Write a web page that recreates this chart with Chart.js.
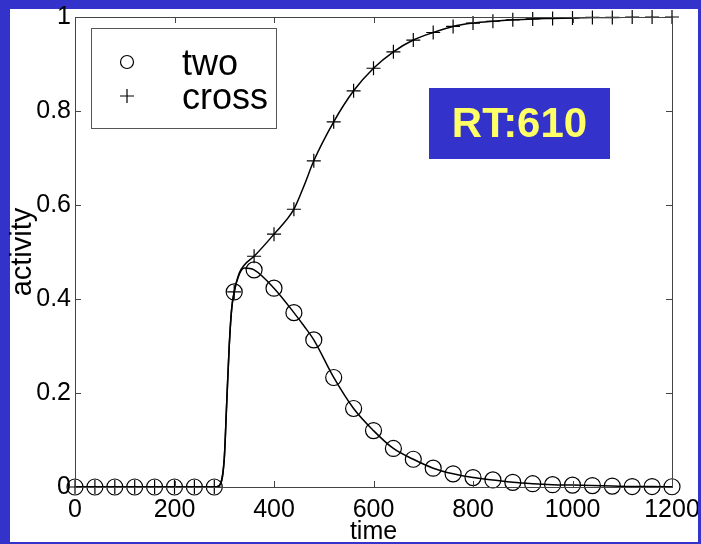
<!DOCTYPE html>
<html>
<head>
<meta charset="utf-8">
<script src="https://cdn.jsdelivr.net/npm/chart.js@4/dist/chart.umd.min.js"></script>
<style>
  html, body { margin: 0; padding: 0; background: #3333cc; }
  canvas { display: block; }
</style>
</head>
<body>
<canvas id="myChart" width="701" height="544"></canvas>
<script>
// sample times of the markers
const markerTimes = [0, 40, 80, 120, 160, 200, 240, 280, 320, 360, 400, 440, 480, 520, 560, 600,
    640, 680, 720, 760, 800, 840, 880, 920, 960, 1000, 1040, 1080, 1120, 1160, 1200];
const twoMarks = [0, 0, 0, 0, 0, 0, 0, 0, 0.415, 0.462, 0.423, 0.371, 0.313, 0.233, 0.167, 0.120,
    0.082, 0.059, 0.040, 0.028, 0.020, 0.015, 0.010, 0.007, 0.005, 0.004, 0.003, 0.002, 0.001, 0.001, 0.0005];
const crossMarks = [0, 0, 0, 0, 0, 0, 0, 0, 0.415, 0.491, 0.538, 0.591, 0.694, 0.777, 0.843, 0.891,
    0.926, 0.951, 0.967, 0.980, 0.987, 0.991, 0.994, 0.996, 0.997, 0.998, 0.999, 0.999, 1, 1, 1];

// the solid curves, read more densely around the onset
const curveTimes = [0, 280, 290, 300, 305, 310, 315, 320, 330, 340, 360, 400, 440, 460, 480, 520, 560, 600,
    640, 680, 720, 760, 800, 840, 880, 920, 960, 1000, 1040, 1080, 1120, 1160, 1200];
const twoCurve = [0, 0, 0.003, 0.06, 0.18, 0.30, 0.38, 0.415, 0.452, 0.466, 0.462, 0.423, 0.371, 0.343, 0.313, 0.233, 0.167, 0.120,
    0.082, 0.059, 0.040, 0.028, 0.020, 0.015, 0.010, 0.007, 0.005, 0.004, 0.003, 0.002, 0.001, 0.001, 0.0005];
const crossCurve = [0, 0, 0.003, 0.06, 0.18, 0.30, 0.38, 0.415, 0.455, 0.472, 0.491, 0.538, 0.591, 0.640, 0.694, 0.777, 0.843, 0.891,
    0.926, 0.951, 0.967, 0.980, 0.987, 0.991, 0.994, 0.996, 0.997, 0.998, 0.999, 0.999, 1, 1, 1];

const yTicks = [0, 0.2, 0.4, 0.6, 0.8, 1];
const xTicks = [0, 200, 400, 600, 800, 1000, 1200];
const rtLabel = "RT:610";

const pts = (xs, ys) => xs.map((x, i) => ({x: x, y: ys[i]}));
const FONT = "'Liberation Sans', Arial, Helvetica, sans-serif";

const framePlugin = {
    id: "frame",
    beforeDraw(chart) {
        const ctx = chart.ctx;
        ctx.save();
        ctx.fillStyle = "#3333cc";
        ctx.fillRect(0, 0, chart.width, chart.height);
        ctx.fillStyle = "#ffffff";
        ctx.fillRect(10, 9, 688, 533);
        ctx.restore();
    },
    afterDatasetsDraw(chart) {
        const ctx = chart.ctx;
        const a = chart.chartArea;
        const xs = chart.scales.x, ys = chart.scales.y;
        ctx.save();
        ctx.strokeStyle = "#444";
        ctx.lineWidth = 1;
        ctx.strokeRect(Math.round(a.left) + 0.5, Math.round(a.top) + 0.5,
            Math.round(a.right - a.left), Math.round(a.bottom - a.top));
        ctx.beginPath();
        xTicks.forEach(v => {
            const px = Math.round(xs.getPixelForValue(v)) + 0.5;
            ctx.moveTo(px, a.bottom); ctx.lineTo(px, a.bottom - 6);
            ctx.moveTo(px, a.top); ctx.lineTo(px, a.top + 6);
        });
        yTicks.forEach(v => {
            const py = Math.round(ys.getPixelForValue(v)) + 0.5;
            ctx.moveTo(a.left, py); ctx.lineTo(a.left + 6, py);
            ctx.moveTo(a.right, py); ctx.lineTo(a.right - 6, py);
        });
        ctx.stroke();

        // legend box
        ctx.fillStyle = "#fff";
        ctx.fillRect(91, 28, 185, 100);
        ctx.strokeStyle = "#555";
        ctx.strokeRect(91.5, 28.5, 185, 100);
        const marks = chart.data.datasets.filter(d => d.showLine === false);
        ctx.font = "36px " + FONT;
        ctx.textBaseline = "alphabetic";
        ctx.textAlign = "left";
        marks.forEach((d, i) => {
            const cy = 62 + i * 34;
            ctx.strokeStyle = "#000";
            ctx.lineWidth = 1.2;
            ctx.beginPath();
            if (d.pointStyle === "circle") {
                ctx.arc(127, cy, 6.5, 0, Math.PI * 2);
            } else {
                ctx.moveTo(120, cy); ctx.lineTo(134, cy);
                ctx.moveTo(127, cy - 7); ctx.lineTo(127, cy + 7);
            }
            ctx.stroke();
            ctx.fillStyle = "#000";
            ctx.fillText(d.label, 182, 75 + i * 34);
        });

        // RT box
        ctx.fillStyle = "#3333cc";
        ctx.fillRect(429, 88, 181, 71);
        ctx.fillStyle = "#ffff66";
        ctx.font = "bold 42px " + FONT;
        ctx.textAlign = "center";
        ctx.textBaseline = "middle";
        ctx.fillText(rtLabel, 519.5, 125);
        ctx.restore();
    },
    afterDraw(chart) {
        // blue frame edge clips whatever pokes out of the white page
        const ctx = chart.ctx;
        ctx.save();
        ctx.fillStyle = "#3333cc";
        ctx.fillRect(698, 0, 3, chart.height);
        ctx.fillRect(0, 542, chart.width, 2);
        ctx.restore();
    }
};

const data = {
    datasets: [
        {
            label: "two curve",
            data: pts(curveTimes, twoCurve),
            borderColor: "#000",
            borderWidth: 1.5,
            pointRadius: 0,
            cubicInterpolationMode: "monotone",
            fill: false
        },
        {
            label: "cross curve",
            data: pts(curveTimes, crossCurve),
            borderColor: "#000",
            borderWidth: 1.5,
            pointRadius: 0,
            cubicInterpolationMode: "monotone",
            fill: false
        },
        {
            label: "two",
            data: pts(markerTimes, twoMarks),
            showLine: false,
            pointStyle: "circle",
            pointRadius: 8,
            pointBorderWidth: 1.2,
            borderColor: "#000",
            backgroundColor: "rgba(0,0,0,0)",
            clip: false
        },
        {
            label: "cross",
            data: pts(markerTimes, crossMarks),
            showLine: false,
            pointStyle: "cross",
            pointRadius: 7,
            pointBorderWidth: 1.2,
            borderColor: "#000",
            backgroundColor: "rgba(0,0,0,0)",
            clip: false
        }
    ]
};

const config = {
    type: "line",
    data: data,
    options: {
        responsive: false,
        animation: false,
        devicePixelRatio: 1,
        layout: { padding: { left: 6, top: 17, right: 29, bottom: 0 } },
        plugins: {
            legend: { display: false },
            tooltip: { enabled: false }
        },
        scales: {
            x: {
                type: "linear",
                min: 0,
                max: 1200,
                afterBuildTicks: s => { s.ticks = xTicks.map(v => ({value: v})); },
                afterFit: s => { s.height = 57; s.paddingLeft = 0; s.paddingRight = 0; },
                grid: { display: false, drawTicks: false },
                border: { display: false },
                ticks: { color: "#000", font: { family: FONT, size: 25 }, padding: 8, maxRotation: 0,
                    callback: v => String(v) },
                title: { display: true, text: "time", color: "#000", font: { family: FONT, size: 25 },
                    padding: { top: 0, bottom: -3 } }
            },
            y: {
                min: 0,
                max: 1,
                afterBuildTicks: s => { s.ticks = yTicks.map(v => ({value: v})); },
                afterFit: s => { s.width = 69; s.paddingTop = 0; s.paddingBottom = 0; },
                grid: { display: false, drawTicks: false },
                border: { display: false },
                ticks: { color: "#000", font: { family: FONT, size: 25 }, padding: 4,
                    callback: v => String(v) },
                title: { display: true, text: "activity", color: "#000", font: { family: FONT, size: 29 }, padding: 0 }
            }
        }
    },
    plugins: [framePlugin]
};

myChart = new Chart(document.getElementById("myChart"), config);
</script>
</body>
</html>
